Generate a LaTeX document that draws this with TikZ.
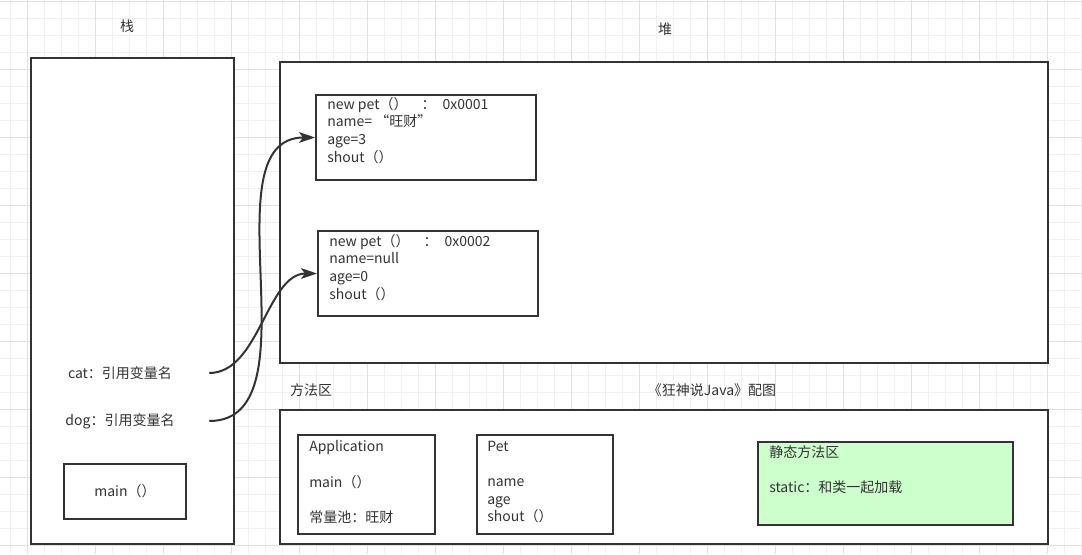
\documentclass[tikz,border=0pt]{standalone}
\usepackage{fontspec}
\setmainfont{Noto Sans CJK SC}
\usetikzlibrary{arrows.meta, positioning}
\definecolor{linegray}{HTML}{333333}
\definecolor{gridminor}{HTML}{F0F0F0}
\definecolor{gridmajor}{HTML}{E0E0E0}
\definecolor{staticgreen}{HTML}{CCFFCC}
\newcommand{\pxu}{0.75pt}
\tikzset{
  region/.style={draw=linegray, line width=1.5pt, fill=white, inner sep=0pt},
  boxsize/.style 2 args={minimum width=#1*\pxu, minimum height=#2*\pxu},
  lines/.style={align=left, inner sep=0pt, anchor=north west},
  title/.style={inner sep=0pt},
  ref/.style={-{Stealth[length=12pt, width=8pt, inset=3pt]}, line width=1.5pt, draw=linegray},
  every node/.style={font=\fontsize{10.5pt}{13.2pt}\selectfont, text=linegray}
}

\begin{document}
\begin{tikzpicture}[x=\pxu, y=-\pxu]
    \useasboundingbox (0,0) rectangle (1082,554);
    % background grid
    \foreach \gx in {0,...,63} \draw[gridminor, line width=0.75pt] (10.3+17*\gx,0) -- (10.3+17*\gx,554);
    \foreach \gy in {0,...,32} \draw[gridminor, line width=0.75pt] (0,1.7+17*\gy) -- (1082,1.7+17*\gy);
    \foreach \gx in {0,...,15} \draw[gridmajor, line width=0.75pt] (27.3+68*\gx,0) -- (27.3+68*\gx,554);
    \foreach \gy in {0,...,8} \draw[gridmajor, line width=0.75pt] (0,1.7+68*\gy) -- (1082,1.7+68*\gy);

    % stack
    \node[title] (stacktitle) at (127,26) {栈};
    \node[region, boxsize={203}{486}] (stack) at (132.5,301) {};
    \node[title, minimum width=178*\pxu] (catref) at (120,373) {cat：引用变量名};
    \node[title, minimum width=178*\pxu] (dogref) at (120,421) {dog：引用变量名};
    \node[region, boxsize={122}{55}] (mainframe) at (125,491.5) {main（）};

    % heap
    \node[title] (heaptitle) at (665,29) {堆};
    \node[region, boxsize={768}{301}] (heap) at (664,212.5) {};
    \node[region, boxsize={220}{85}] (obj1) at (426,137.5) {};
    \node[lines] (obj1text) at ([shift={(12,3)}]obj1.north west) {new pet（）\quad：\enspace 0x0001\\name= “旺财”\\age=3\\shout（）};
    \node[region, boxsize={220}{85}] (obj2) at (428,273.5) {};
    \node[lines] (obj2text) at ([shift={(12,4)}]obj2.north west) {new pet（）\quad：\enspace 0x0002\\name=null\\age=0\\shout（）};

    % method area
    \node[title] (methodtitle) at (311,390) {方法区};
    \node[title] (caption) at (712,390) {《狂神说Java》配图};
    \node[region, boxsize={768}{134}] (method) at (664,477) {};
    \node[region, boxsize={137}{99}] (app) at (366.5,484.5) {};
    \node[lines] (apptext) at ([shift={(12,6)}]app.north west) {Application\\[13.6pt]main（）\\[13.6pt]常量池：旺财};
    \node[region, boxsize={136}{99}] (petclass) at (545,484.5) {};
    \node[lines] (pettext) at ([shift={(11,7)}]petclass.north west) {Pet\\[13.2pt]name\\age\\shout（）};
    \node[region, fill=staticgreen, boxsize={255}{83}] (static) at (885.5,483.5) {};
    \node[lines] (statictext) at ([shift={(12,4)}]static.north west) {静态方法区\\[13.2pt]static：和类一起加载};

    \draw[ref] (catref.east) .. controls +(50,0) and +(-50,0) .. (obj2.west);
    \draw[ref] (dogref.east) .. controls +(110,0) and +(-110,0) .. (obj1.west);
\end{tikzpicture}
\end{document}
